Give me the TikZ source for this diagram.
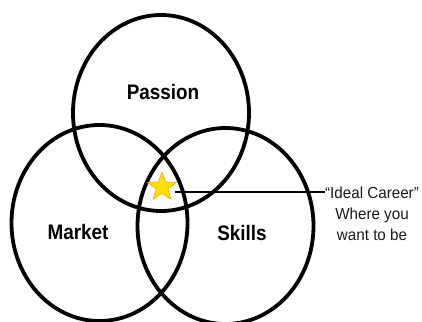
\documentclass[tikz,border=0pt]{standalone}
\usepackage{fontspec}
\setmainfont{Liberation Sans}
\newfontfamily\narrowsans[FakeStretch=0.9]{Liberation Sans}
\newfontfamily\notesans[FakeStretch=0.95]{Liberation Sans}
\usetikzlibrary{shapes.geometric}
\tikzset{
  venn/.style={draw=black, line width=3.8pt, ellipse, inner sep=0pt,
               minimum width=176pt, minimum height=196pt},
  vlabel/.style={font=\narrowsans\fontsize{21}{24}\selectfont\bfseries, text=black},
  note/.style={font=\notesans\fontsize{16}{21}\selectfont, align=center, text=black!90, inner sep=0pt},
  starmark/.style={star, star points=5, star point ratio=2.4, minimum size=30pt, inner sep=0pt,
                   fill=yellow!85!orange, draw=orange!70!yellow, line width=0.6pt}
}
\begin{document}
\begin{tikzpicture}[x=1pt,y=-1pt]
\useasboundingbox (0,0) rectangle (422,321);
\node[venn] (passion) at (161,113) {};
\node[venn] (market) at (99.5,223) {};
\node[venn] (skills) at (225.5,226) {};
\node[vlabel] (lpassion) at (163,92) {Passion};
\node[vlabel] (lmarket) at (78,232) {Market};
\node[vlabel] (lskills) at (242,233) {Skills};
\node[starmark] (st) at (162,187) {};
\coordinate (lstart) at (175,192);
\node[note] (ideal) at (372,214) {“Ideal Career”\\Where you\\want to be};
\draw[line width=2pt] (lstart) -- (lstart -| ideal.west);
\end{tikzpicture}
\end{document}
